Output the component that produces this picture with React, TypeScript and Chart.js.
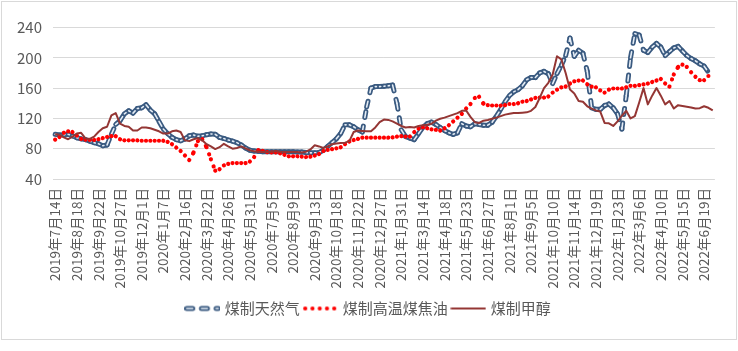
import React, { useEffect, useRef } from 'react';
import { Chart, registerables } from 'chart.js';

Chart.register(...registerables);

const tickLabels = [
  '2019年7月14日', '2019年8月18日', '2019年9月22日', '2019年10月27日', '2019年12月1日',
  '2020年1月7日', '2020年2月16日', '2020年3月22日', '2020年4月26日', '2020年5月31日',
  '2020年7月5日', '2020年8月9日', '2020年9月13日', '2020年10月18日', '2020年11月22日',
  '2020年12月27日', '2021年1月31日', '2021年3月14日', '2021年4月18日', '2021年5月23日',
  '2021年6月27日', '2021年8月1日', '2021年9月5日', '2021年10月10日', '2021年11月14日',
  '2021年12月19日', '2022年1月23日', '2022年3月6日', '2022年4月10日', '2022年5月15日',
  '2022年6月19日',
];

const seriesNames = ['煤制天然气', '煤制高温煤焦油', '煤制甲醇'];

const gasValues = [
  99, 98, 98.5, 99, 97, 94.5, 93, 92, 90, 88,
  86.5, 84, 85, 99, 112, 117, 126, 130, 127, 133,
  134, 138, 131, 126, 116, 106, 100, 95, 92, 90.5,
  93, 97, 98, 96.5, 97, 98.5, 99.5, 99, 95, 93.5,
  91.5, 90, 88, 85, 81, 78, 77, 76.5, 76, 76,
  76, 76, 76, 76, 76, 76, 75.5, 75.5, 75, 74.5,
  74.5, 75, 78, 83, 88, 93, 100, 111.5, 111.5, 109,
  105, 102, 135, 160, 162, 162, 162.5, 163, 164, 140,
  105, 96, 94, 92, 100, 108, 113, 115, 112, 108,
  104, 101, 99, 101, 113, 110, 109, 113, 112, 111,
  111, 115, 123, 132, 142, 150, 155, 158, 163, 171,
  174, 174, 180, 182, 179, 166, 179, 190, 203, 226,
  202, 210, 206, 182, 134, 132, 132, 137, 139, 134,
  126, 106, 150, 200, 232, 230, 210, 207, 214, 219,
  214, 203, 208, 213, 215, 209, 203, 199, 196, 192,
  189, 181, null,
];

const tarValues = [
  92, 95.5, 101, 103, 102, 97.5, 93, 92, 91.5, 91.5,
  92.5, 94, 95.5, 96.5, 96.5, 92.5, 91, 91, 91, 91,
  90.5, 90.5, 90.5, 90.5, 90.5, 90.5, 89, 86, 81.5, 77,
  71, 65, 75, 90, 92.5, 82, 66, 51, 53, 58,
  60, 61, 61, 61, 61, 63, 69, 78, 77, 75.5,
  75, 75, 74, 72, 70, 70, 70, 69.5, 69, 69.5,
  71, 73, 77, 78.5, 79.5, 80.5, 82, 86, 89.5, 91.5,
  93, 94.5, 94.5, 94.5, 94.5, 94.5, 94.5, 94.5, 95, 96,
  96.5, 96, 96, 102, 106.5, 108.5, 107, 105.5, 105, 104,
  107, 111, 116, 121, 126, 133, 139, 147, 148.5, 139.5,
  137.5, 137, 137, 137, 137.5, 139, 139, 140, 142, 143,
  145, 147, 147.5, 147.5, 149, 154, 158, 161, 162, 166,
  169, 170, 170, 165, 162, 161, 157, 154, 158, 159.5,
  159.5, 159.5, 161, 163, 163, 164, 165, 166, 168, 170,
  172, 166, 162, 178, 188, 191, 188, 181, 175, 170.5,
  170.5, 176, null,
];

const methanolValues = [
  99, 98.5, 95, 92.5, 96, 100, 101, 93.5, 93, 96,
  102, 107, 109, 124, 127, 113, 110, 109, 104, 104,
  108, 108, 107, 105, 103, 100, 100, 103, 104, 102,
  91, 90, 92.5, 94, 91, 86, 83, 79.5, 82, 86.5,
  83, 80, 81, 83, 80.5, 78, 76.5, 76, 75.5, 75.5,
  76, 77, 76, 75.5, 75.5, 75.5, 75.5, 75, 76, 79,
  84.5, 83, 81, 83, 86, 87, 87.5, 88, 90, 102,
  104, 103.5, 103, 103, 108, 115, 118.5, 118, 116, 113,
  110, 108, 108.5, 108, 110, 111, 111.5, 113, 117, 119.5,
  121, 123, 125, 127, 130, 130.5, 122, 115, 114, 117,
  118, 119.5, 121, 123, 125, 126, 127, 127, 127.5, 128,
  130, 135, 147, 160, 167, 178, 202, 198, 180, 158,
  153, 143, 142, 136, 133, 130.5, 129, 114, 113.5, 110,
  116, 123.5, 130, 120, 123, 141, 160, 138.5, 150, 160,
  150, 138.5, 143, 133, 137.5, 136.5, 135.5, 134.5, 133, 133.5,
  136, 134, 130.5,
];

const categories = methanolValues.map((_, i) =>
  i % 5 === 0 && tickLabels[i / 5] ? tickLabels[i / 5] : ''
);

const FONT = '"Noto Sans CJK SC", "Noto Sans", sans-serif';
const TEXT = '#595959';
const GRID = '#D9D9D9';
const BLUE = '#3A5A80';
const BLUE_IN = '#E4ECF5';
const RED = '#FF0000';
const BROWN = '#943634';
const GAS_DASH = [6, 8.7];
const TAR_DASH = [0.01, 7.6];

const alt = (ctx: any) => (ctx.p0DataIndex % 2) * 0.001;
const segLen = (ctx: any) => Math.hypot(ctx.p1.x - ctx.p0.x, ctx.p1.y - ctx.p0.y);
const innerDash = (ctx: any) => {
  const l = segLen(ctx);
  return l <= 9.25 ? [Math.max(l - 3.25, 0.2), 60] : GAS_DASH;
};

function makeMarker(kind: string): HTMLCanvasElement {
  const c = document.createElement('canvas');
  c.width = 36;
  c.height = 8;
  const g = c.getContext('2d')!;
  if (kind === 'gas') {
    g.lineCap = 'round';
    g.setLineDash(GAS_DASH);
    g.strokeStyle = BLUE;
    g.lineWidth = 5;
    g.beginPath(); g.moveTo(2.5, 4); g.lineTo(34, 4); g.stroke();
    g.strokeStyle = BLUE_IN;
    g.lineWidth = 1.6;
    g.beginPath(); g.moveTo(2.5, 4); g.lineTo(34, 4); g.stroke();
  } else if (kind === 'tar') {
    g.fillStyle = RED;
    [3, 10.25, 17.5, 24.75, 32].forEach((x) => {
      g.beginPath(); g.arc(x, 4, 2.1, 0, Math.PI * 2); g.fill();
    });
  } else {
    g.strokeStyle = BROWN;
    g.lineWidth = 2;
    g.beginPath(); g.moveTo(0.5, 4); g.lineTo(35.5, 4); g.stroke();
  }
  return c;
}

export default function App() {
  const ref = useRef<HTMLCanvasElement>(null);

  useEffect(() => {
    const canvas = ref.current;
    if (!canvas) return;
    Chart.defaults.font.family = FONT;
    const markers = [makeMarker('gas'), makeMarker('tar'), makeMarker('methanol')];
    const lastTar = tarValues.length - 2;

    const chart = new Chart(canvas, {
      type: 'line',
      data: {
        labels: categories,
        datasets: [
          {
            label: seriesNames[0],
            data: gasValues,
            borderColor: BLUE,
            borderWidth: 5,
            borderDash: GAS_DASH,
            borderCapStyle: 'round',
            borderJoinStyle: 'round',
            pointRadius: 0,
            fill: false,
            order: 4,
            segment: { borderDashOffset: alt },
          } as any,
          {
            label: 'inner',
            data: gasValues,
            borderColor: BLUE_IN,
            borderWidth: 1.6,
            borderDash: GAS_DASH,
            borderCapStyle: 'round',
            borderJoinStyle: 'round',
            pointRadius: 0,
            fill: false,
            order: 3,
            segment: { borderDashOffset: alt, borderDash: innerDash },
          } as any,
          {
            label: seriesNames[1],
            data: tarValues,
            borderColor: RED,
            borderWidth: 4.2,
            borderDash: TAR_DASH,
            borderCapStyle: 'round',
            pointRadius: (ctx: any) => (ctx.dataIndex === lastTar ? 2.1 : 0),
            pointBackgroundColor: RED,
            pointBorderWidth: 0,
            fill: false,
            order: 2,
            segment: { borderDashOffset: alt },
          } as any,
          {
            label: seriesNames[2],
            data: methanolValues,
            borderColor: BROWN,
            borderWidth: 2,
            borderJoinStyle: 'round',
            pointRadius: 0,
            fill: false,
            order: 1,
          } as any,
        ],
      },
      options: {
        animation: false,
        responsive: false,
        devicePixelRatio: 1,
        events: [],
        layout: { padding: { top: 27.5, right: 0, bottom: 25, left: 0 } },
        scales: {
          x: {
            type: 'category',
            offset: true,
            grid: { display: false, drawTicks: false },
            border: { display: false },
            ticks: {
              autoSkip: false,
              minRotation: 90,
              maxRotation: 90,
              padding: 9,
              color: TEXT,
              font: { size: 13.5, family: FONT },
            },
            afterFit: (s: any) => { s.height = 116.5; },
          },
          y: {
            type: 'linear',
            position: 'left',
            min: 40,
            max: 240,
            grid: { color: GRID, lineWidth: 1, drawTicks: false },
            border: { display: false },
            ticks: {
              stepSize: 20,
              padding: 11,
              color: TEXT,
              font: { size: 15, family: FONT },
            },
            afterFit: (s: any) => { s.width = 53; },
          },
          yR: {
            type: 'linear',
            position: 'right',
            display: true,
            grid: { display: false, drawTicks: false },
            border: { display: false },
            ticks: { display: false },
            afterFit: (s: any) => { s.width = 20; },
          },
        },
        plugins: {
          tooltip: { enabled: false },
          legend: {
            display: true,
            position: 'bottom',
            labels: {
              usePointStyle: true,
              pointStyleWidth: 30,
              padding: 5.5,
              color: TEXT,
              font: { size: 15, family: FONT },
              generateLabels: () =>
                seriesNames.map((name, i) => ({
                  text: name,
                  pointStyle: markers[i],
                  fillStyle: 'rgba(0,0,0,0)',
                  strokeStyle: 'rgba(0,0,0,0)',
                  lineWidth: 0,
                  hidden: false,
                  fontColor: TEXT,
                  datasetIndex: i === 0 ? 0 : i + 1,
                })) as any,
            },
          },
        },
      } as any,
    });

    return () => chart.destroy();
  }, []);

  return (
    <div style={{ position: 'absolute', left: 0, top: 0, width: 738, height: 351, background: '#fff' }}>
      <canvas
        ref={ref}
        width={738}
        height={351}
        style={{ position: 'absolute', left: 0, top: 0, width: 738, height: 351 }}
      />
      <div
        style={{
          position: 'absolute', left: 1, top: 1, width: 736, height: 339,
          border: '1px solid #D9D9D9', boxSizing: 'border-box', pointerEvents: 'none',
        }}
      />
    </div>
  );
}
